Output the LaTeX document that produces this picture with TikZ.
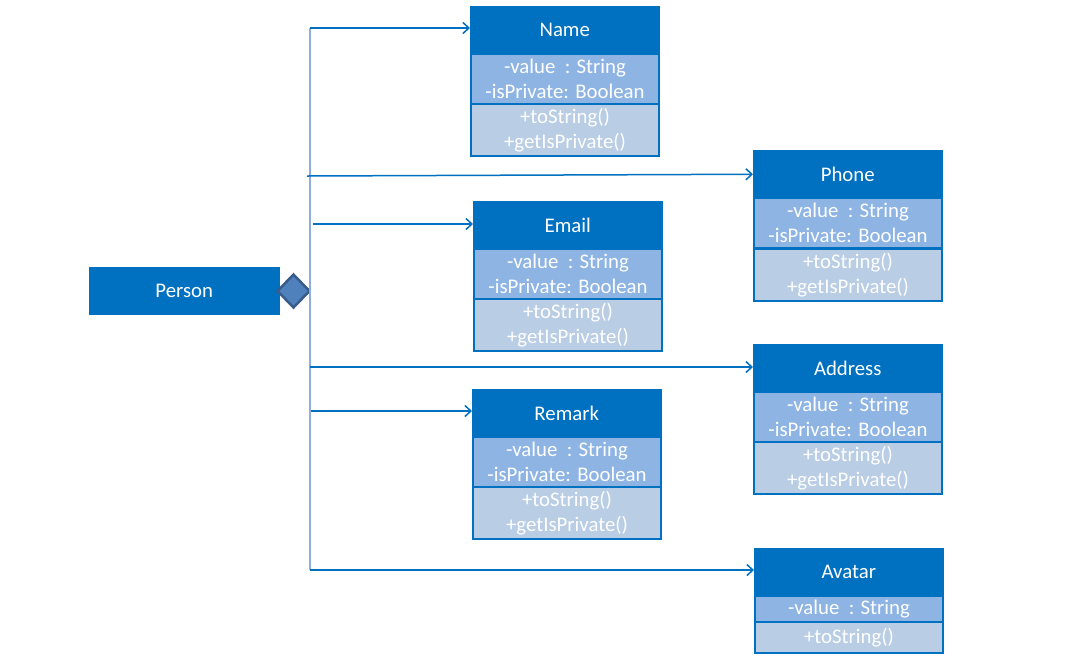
\documentclass[tikz,border=0pt]{standalone}
\usepackage{fontspec}
\setmainfont{Carlito}
\usetikzlibrary{arrows.meta,shapes.geometric}
\definecolor{hdrblue}{HTML}{0070C0}
\definecolor{attrblue}{HTML}{8EB4E3}
\definecolor{methblue}{HTML}{B9CDE5}
\definecolor{busblue}{HTML}{8FAEDC}
\definecolor{diafill}{HTML}{4F81BD}
\definecolor{diadraw}{HTML}{385D8A}
\begin{document}
\begin{tikzpicture}[x=1pt,y=-1pt,
  txt/.style={font=\fontsize{20.8}{25}\selectfont, text=white, align=center, inner sep=0pt},
  hdr/.style={txt, anchor=north west, minimum width=188pt, minimum height=47pt, fill=hdrblue, draw=hdrblue, line width=1.5pt},
  attr/.style={txt, anchor=north west, minimum width=188pt, minimum height=50pt, fill=attrblue, draw=hdrblue, line width=2pt},
  meth/.style={txt, anchor=north west, minimum width=188pt, minimum height=52pt, fill=methblue, draw=hdrblue, line width=2pt},
  arr/.style={draw=hdrblue, line width=1.5pt, -{Straight Barb[length=6pt,width=11pt,line width=1.5pt]}},
  bus/.style={draw=busblue, line width=1.5pt}]
\useasboundingbox (0,0) rectangle (1092,657);

% Person and its aggregation diamond
\node[hdr, minimum width=189pt, minimum height=46pt] (person) at (89,267) {Person};
\node[diamond, fill=diafill, draw=diadraw, line width=2.5pt, minimum width=33pt, minimum height=34pt, inner sep=0pt] (dia) at (293.5,291) {};

% Name
\node[hdr] (nameH) at (470,6) {Name};
\node[attr] (nameA) at (470,53) {-value\ \ : String\\-isPrivate: Boolean};
\node[meth] (nameM) at (470,103) {+toString()\\+getIsPrivate()};

% Phone
\node[hdr] (phoneH) at (753,150) {Phone};
\node[attr] (phoneA) at (753,197) {-value\ \ : String\\-isPrivate: Boolean};
\node[meth] (phoneM) at (753,248) {+toString()\\+getIsPrivate()};

% Email
\node[hdr] (emailH) at (473,201) {Email};
\node[attr] (emailA) at (473,248) {-value\ \ : String\\-isPrivate: Boolean};
\node[meth] (emailM) at (473,298) {+toString()\\+getIsPrivate()};

% Address
\node[hdr] (addrH) at (753,344) {Address};
\node[attr] (addrA) at (753,391) {-value\ \ : String\\-isPrivate: Boolean};
\node[meth] (addrM) at (753,441) {+toString()\\+getIsPrivate()};

% Remark
\node[hdr] (remH) at (472,389) {Remark};
\node[attr] (remA) at (472,436) {-value\ \ : String\\-isPrivate: Boolean};
\node[meth] (remM) at (472,486) {+toString()\\+getIsPrivate()};

% Avatar
\node[hdr] (avH) at (754,548) {Avatar};
\node[attr, minimum height=26pt] (avA) at (754,595) {-value\ \ : String};
\node[meth, minimum height=31pt] (avM) at (754,621) {+toString()};

% vertical bus and its branches
\coordinate (b1) at (310,28);
\coordinate (b2) at (307,176);
\coordinate (b3) at (313,224);
\coordinate (b4) at (310,367);
\coordinate (b5) at (311,411);
\coordinate (b6) at (310,570);
\draw[bus] (b1) -- (b6);
\draw[arr] (b1) -- (nameH.west |- b1);
\draw[arr] (b2) -- (phoneH.west);
\draw[arr] (b3) -- (emailH.west |- b3);
\draw[arr] (b4) -- (addrH.west |- b4);
\draw[arr] (b5) -- (remH.west |- b5);
\draw[arr] (b6) -- (avH.west |- b6);
\end{tikzpicture}
\end{document}
